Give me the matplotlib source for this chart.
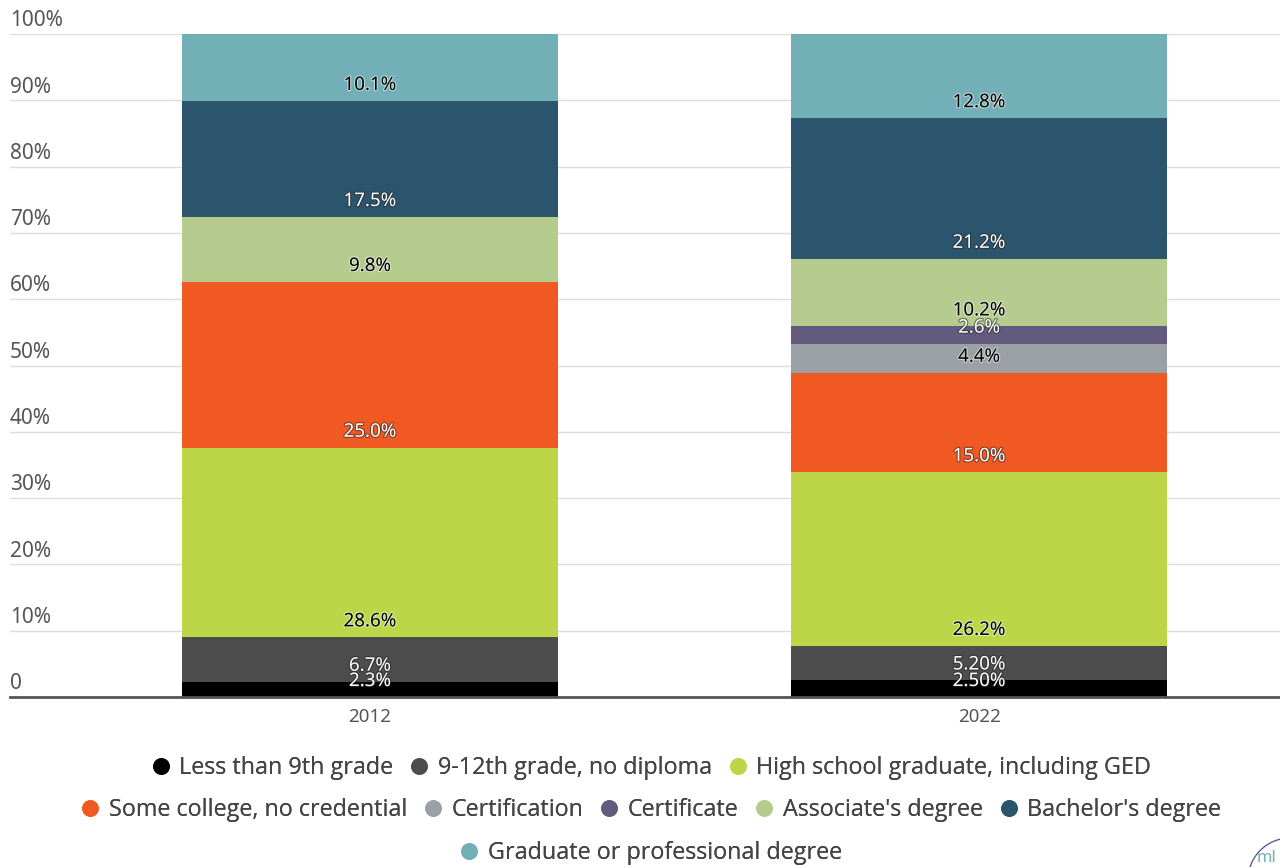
import matplotlib
matplotlib.use("Agg")
import matplotlib.pyplot as plt
import matplotlib.patheffects as pe
from matplotlib.lines import Line2D
from matplotlib.patches import Circle
import numpy as np

# data
years = ["2012", "2022"]
categories = ["Less than 9th grade", "9-12th grade, no diploma",
              "High school graduate, including GED", "Some college, no credential",
              "Certification", "Certificate", "Associate's degree",
              "Bachelor's degree", "Graduate or professional degree"]
vals_2012 = [2.3, 6.7, 28.6, 25.0, 0.0, 0.0, 9.8, 17.5, 10.1]
vals_2022 = [2.5, 5.2, 26.2, 15.0, 4.4, 2.6, 10.2, 21.2, 12.8]
labels_2012 = ["2.3%", "6.7%", "28.6%", "25.0%", "", "", "9.8%", "17.5%", "10.1%"]
labels_2022 = ["2.50%", "5.20%", "26.2%", "15.0%", "4.4%", "2.6%", "10.2%", "21.2%", "12.8%"]

colors = ["#000000", "#4d4d4d", "#bcd647", "#f05a22", "#9aa0a6",
          "#625b7e", "#b5cc8e", "#2b546d", "#73afb6"]
text_colors = ["white", "white", "black", "white", "black",
               "white", "black", "white", "black"]

plt.rcParams['font.family'] = ['Noto Sans', 'DejaVu Sans']

fig = plt.figure(figsize=(12.8, 8.67), dpi=100)
ax = fig.add_axes([10/1280, 170/867, 1 - 10/1280, 663/867])

x = np.arange(len(years))
data = np.array([vals_2012, vals_2022]).T
labels = [labels_2012, labels_2022]
bottoms = np.zeros(len(years))
for i, cat in enumerate(categories):
    ax.bar(x, data[i], bottom=bottoms, width=0.617, color=colors[i], zorder=2)
    for j in range(len(years)):
        txt = labels[j][i]
        if txt:
            halo = "#222222" if text_colors[i] == "white" else "#ffffff"
            ax.annotate(txt, (x[j], bottoms[j]), xytext=(0, 11.5), textcoords="offset points",
                        ha="center", va="center", fontsize=13.5, color=text_colors[i],
                        path_effects=[pe.withStroke(linewidth=1.5, foreground=halo, alpha=0.6)],
                        zorder=3)
    bottoms = bottoms + data[i]

ax.set_ylim(0, 100)
ax.set_xlim(-0.591, 1.494)
ax.set_yticks(np.arange(0, 101, 10))
ax.set_yticklabels([])
ax.grid(axis="y", color="#dddddd", linewidth=1, zorder=0)
ax.set_xticks(x)
ax.set_xticklabels(years, fontsize=13.5, color="#555555")
ax.tick_params(axis="x", length=0, pad=8)
ax.tick_params(axis="y", length=0)
for s in ["top", "right", "left"]:
    ax.spines[s].set_visible(False)
ax.spines["bottom"].set_color("#555555")
ax.spines["bottom"].set_linewidth(2)
ax.spines["bottom"].set_zorder(4)

# y labels sit above the gridlines
for t in range(0, 101, 10):
    ax.annotate("0" if t == 0 else f"{t}%", (0, t), xycoords=("axes fraction", "data"),
                xytext=(0, 2), textcoords="offset points", ha="left", va="bottom",
                fontsize=15, color="#555555")

# legend in three centered rows
handles = [Line2D([], [], marker="o", linestyle="", markersize=11, color=c) for c in colors]
rows = [[0, 1, 2], [3, 4, 5, 6, 7], [8]]
row_y = [768, 810, 853]
for r, yy in zip(rows, row_y):
    leg = fig.legend([handles[k] for k in r], [categories[k] for k in r],
                     loc="center", bbox_to_anchor=(650/1280, 1 - yy/867), ncol=len(r),
                     frameon=False, handletextpad=0.3, columnspacing=0.6,
                     handlelength=1.0, borderaxespad=0, borderpad=0,
                     prop={"family": "Open Sans", "size": 16.8})
    for t in leg.get_texts():
        t.set_color("#444444")
    fig.add_artist(leg)

# little logo in the corner
fig.add_artist(Circle((12.9, -0.13), 0.42, transform=fig.dpi_scale_trans,
                      fill=False, edgecolor="#6a5a8e", linewidth=1))
fig.text(1257/1280, 1 - 858/867, "ml", fontsize=12, color="#73afb6", fontweight="bold",
         ha="left", va="center")

fig.savefig("out.png", dpi=100)
